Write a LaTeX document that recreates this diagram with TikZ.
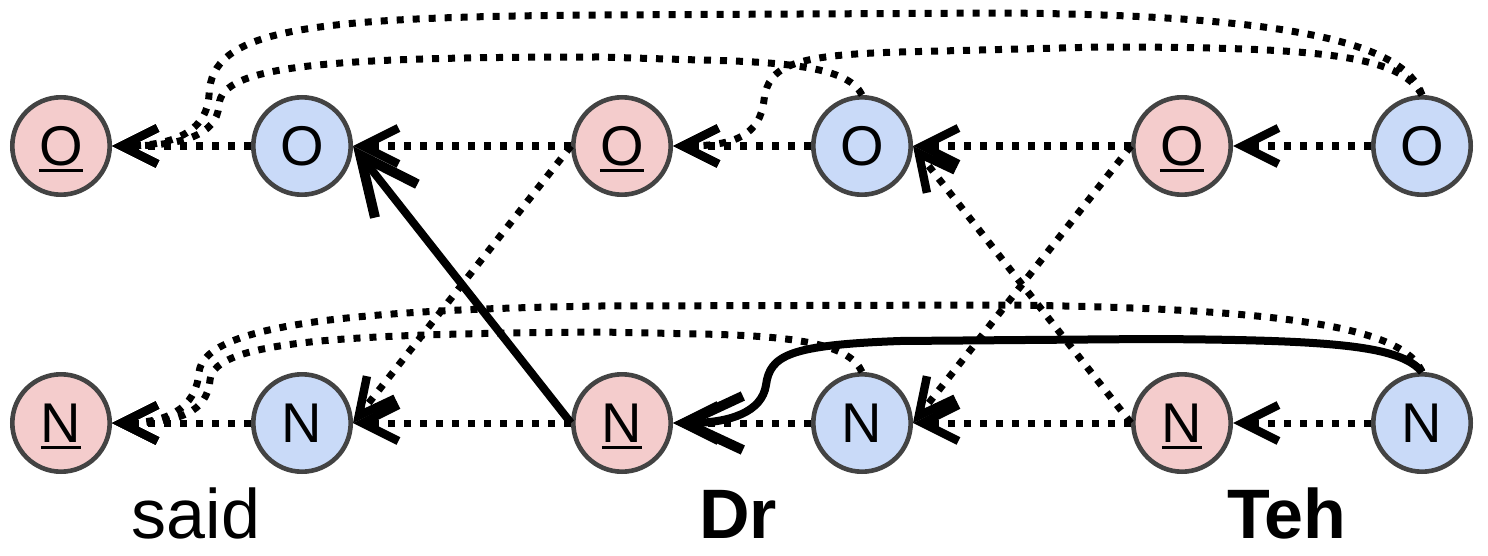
\documentclass[tikz,border=0pt]{standalone}
\usepackage{fontspec}
\setmainfont{Liberation Sans}
\usetikzlibrary{arrows.meta}
\definecolor{stred}{HTML}{F4CCCC}
\definecolor{stblue}{HTML}{C9DAF8}
\definecolor{strim}{HTML}{434343}
\newcommand{\ulmark}[1]{\setbox0=\hbox{#1}\rlap{\smash{\rule[-3.5pt]{\wd0}{1.8pt}}}\box0}

\begin{document}
\begin{tikzpicture}[x=0.5pt,y=-0.5pt,
  tok/.style={circle,draw=strim,line width=2.3pt,minimum size=48.7pt,inner sep=0pt,font=\fontsize{28pt}{30pt}\selectfont},
  redtok/.style={tok,fill=stred},
  bluetok/.style={tok,fill=stblue},
  dotarr/.style={line width=3.5pt,dash pattern=on 3.5pt off 4.5pt,-{Straight Barb[length=18pt,width=18pt,line width=4.2pt]}},
  solidarr/.style={line width=4pt,-{Straight Barb[length=29pt,width=27pt,line width=5pt]}},
  word/.style={anchor=base,font=\fontsize{35pt}{38pt}\selectfont}]
\fill[white] (0,0) rectangle (1488,556);
\useasboundingbox (0,0) rectangle (1488,556);
\node [redtok] (o1) at (61,146) {\ulmark{O}};
\node [bluetok] (o2) at (302,146) {O};
\node [redtok] (o3) at (622,146) {\ulmark{O}};
\node [bluetok] (o4) at (862,146) {O};
\node [redtok] (o5) at (1182,146) {\ulmark{O}};
\node [bluetok] (o6) at (1422,146) {O};
\node [redtok] (n1) at (61,423) {\ulmark{N}};
\node [bluetok] (n2) at (302,423) {N};
\node [redtok] (n3) at (622,423) {\ulmark{N}};
\node [bluetok] (n4) at (862,423) {N};
\node [redtok] (n5) at (1182,423) {\ulmark{N}};
\node [bluetok] (n6) at (1422,423) {N};
\node [word] (said) at (196,538) {said};
\node [word] (dr) at (738,538) {\bfseries Dr};
\node [word] (teh) at (1287,538) {\bfseries Teh};
\draw[dotarr] (o2) -- (o1);
\draw[dotarr] (o3) -- (o2);
\draw[dotarr] (o4) -- (o3);
\draw[dotarr] (o5) -- (o4);
\draw[dotarr] (o6) -- (o5);
\draw[dotarr] (n2) -- (n1);
\draw[dotarr] (n3) -- (n2);
\draw[dotarr] (n4) -- (n3);
\draw[dotarr] (n5) -- (n4);
\draw[dotarr] (n6) -- (n5);
\draw[dotarr] (o3.west) -- (n2.east);
\draw[dotarr] (o5.west) -- (n4.east);
\draw[dotarr] (n5.west) -- (o4.east);
\draw[solidarr] (n3.west) -- (o2.east);
\draw[dotarr] (o6.north) .. controls (1405,45) and (1300,15) .. (1000,13) -- (600,15)
  .. controls (300,17) and (211,30) .. (209,95) .. controls (207,132) and (172,146) .. (o1.east);
\draw[dotarr] (o4.north) .. controls (850,70) and (800,62) .. (700,60) -- (600,57)
  .. controls (330,57) and (221,65) .. (219,105) .. controls (217,136) and (180,146) .. (o1.east);
\draw[dotarr] (o6.north) .. controls (1400,55) and (1320,47) .. (1100,47) -- (900,52)
  .. controls (795,55) and (768,65) .. (764,100) .. controls (760,135) and (735,146) .. (o3.east);
\draw[dotarr] (n6.north) .. controls (1405,330) and (1300,308) .. (1000,305) -- (600,306)
  .. controls (350,310) and (205,325) .. (199,372) .. controls (196,410) and (165,423) .. (n1.east);
\draw[dotarr] (n4.north) .. controls (850,345) and (800,336) .. (700,334) -- (600,332)
  .. controls (350,334) and (214,340) .. (210,380) .. controls (207,412) and (180,423) .. (n1.east);
\draw[solidarr] (n6.north) .. controls (1400,345) and (1330,340) .. (1150,339) -- (900,341)
  .. controls (790,345) and (770,355) .. (766,385) .. controls (762,412) and (730,423) .. (n3.east);
\end{tikzpicture}
\end{document}
